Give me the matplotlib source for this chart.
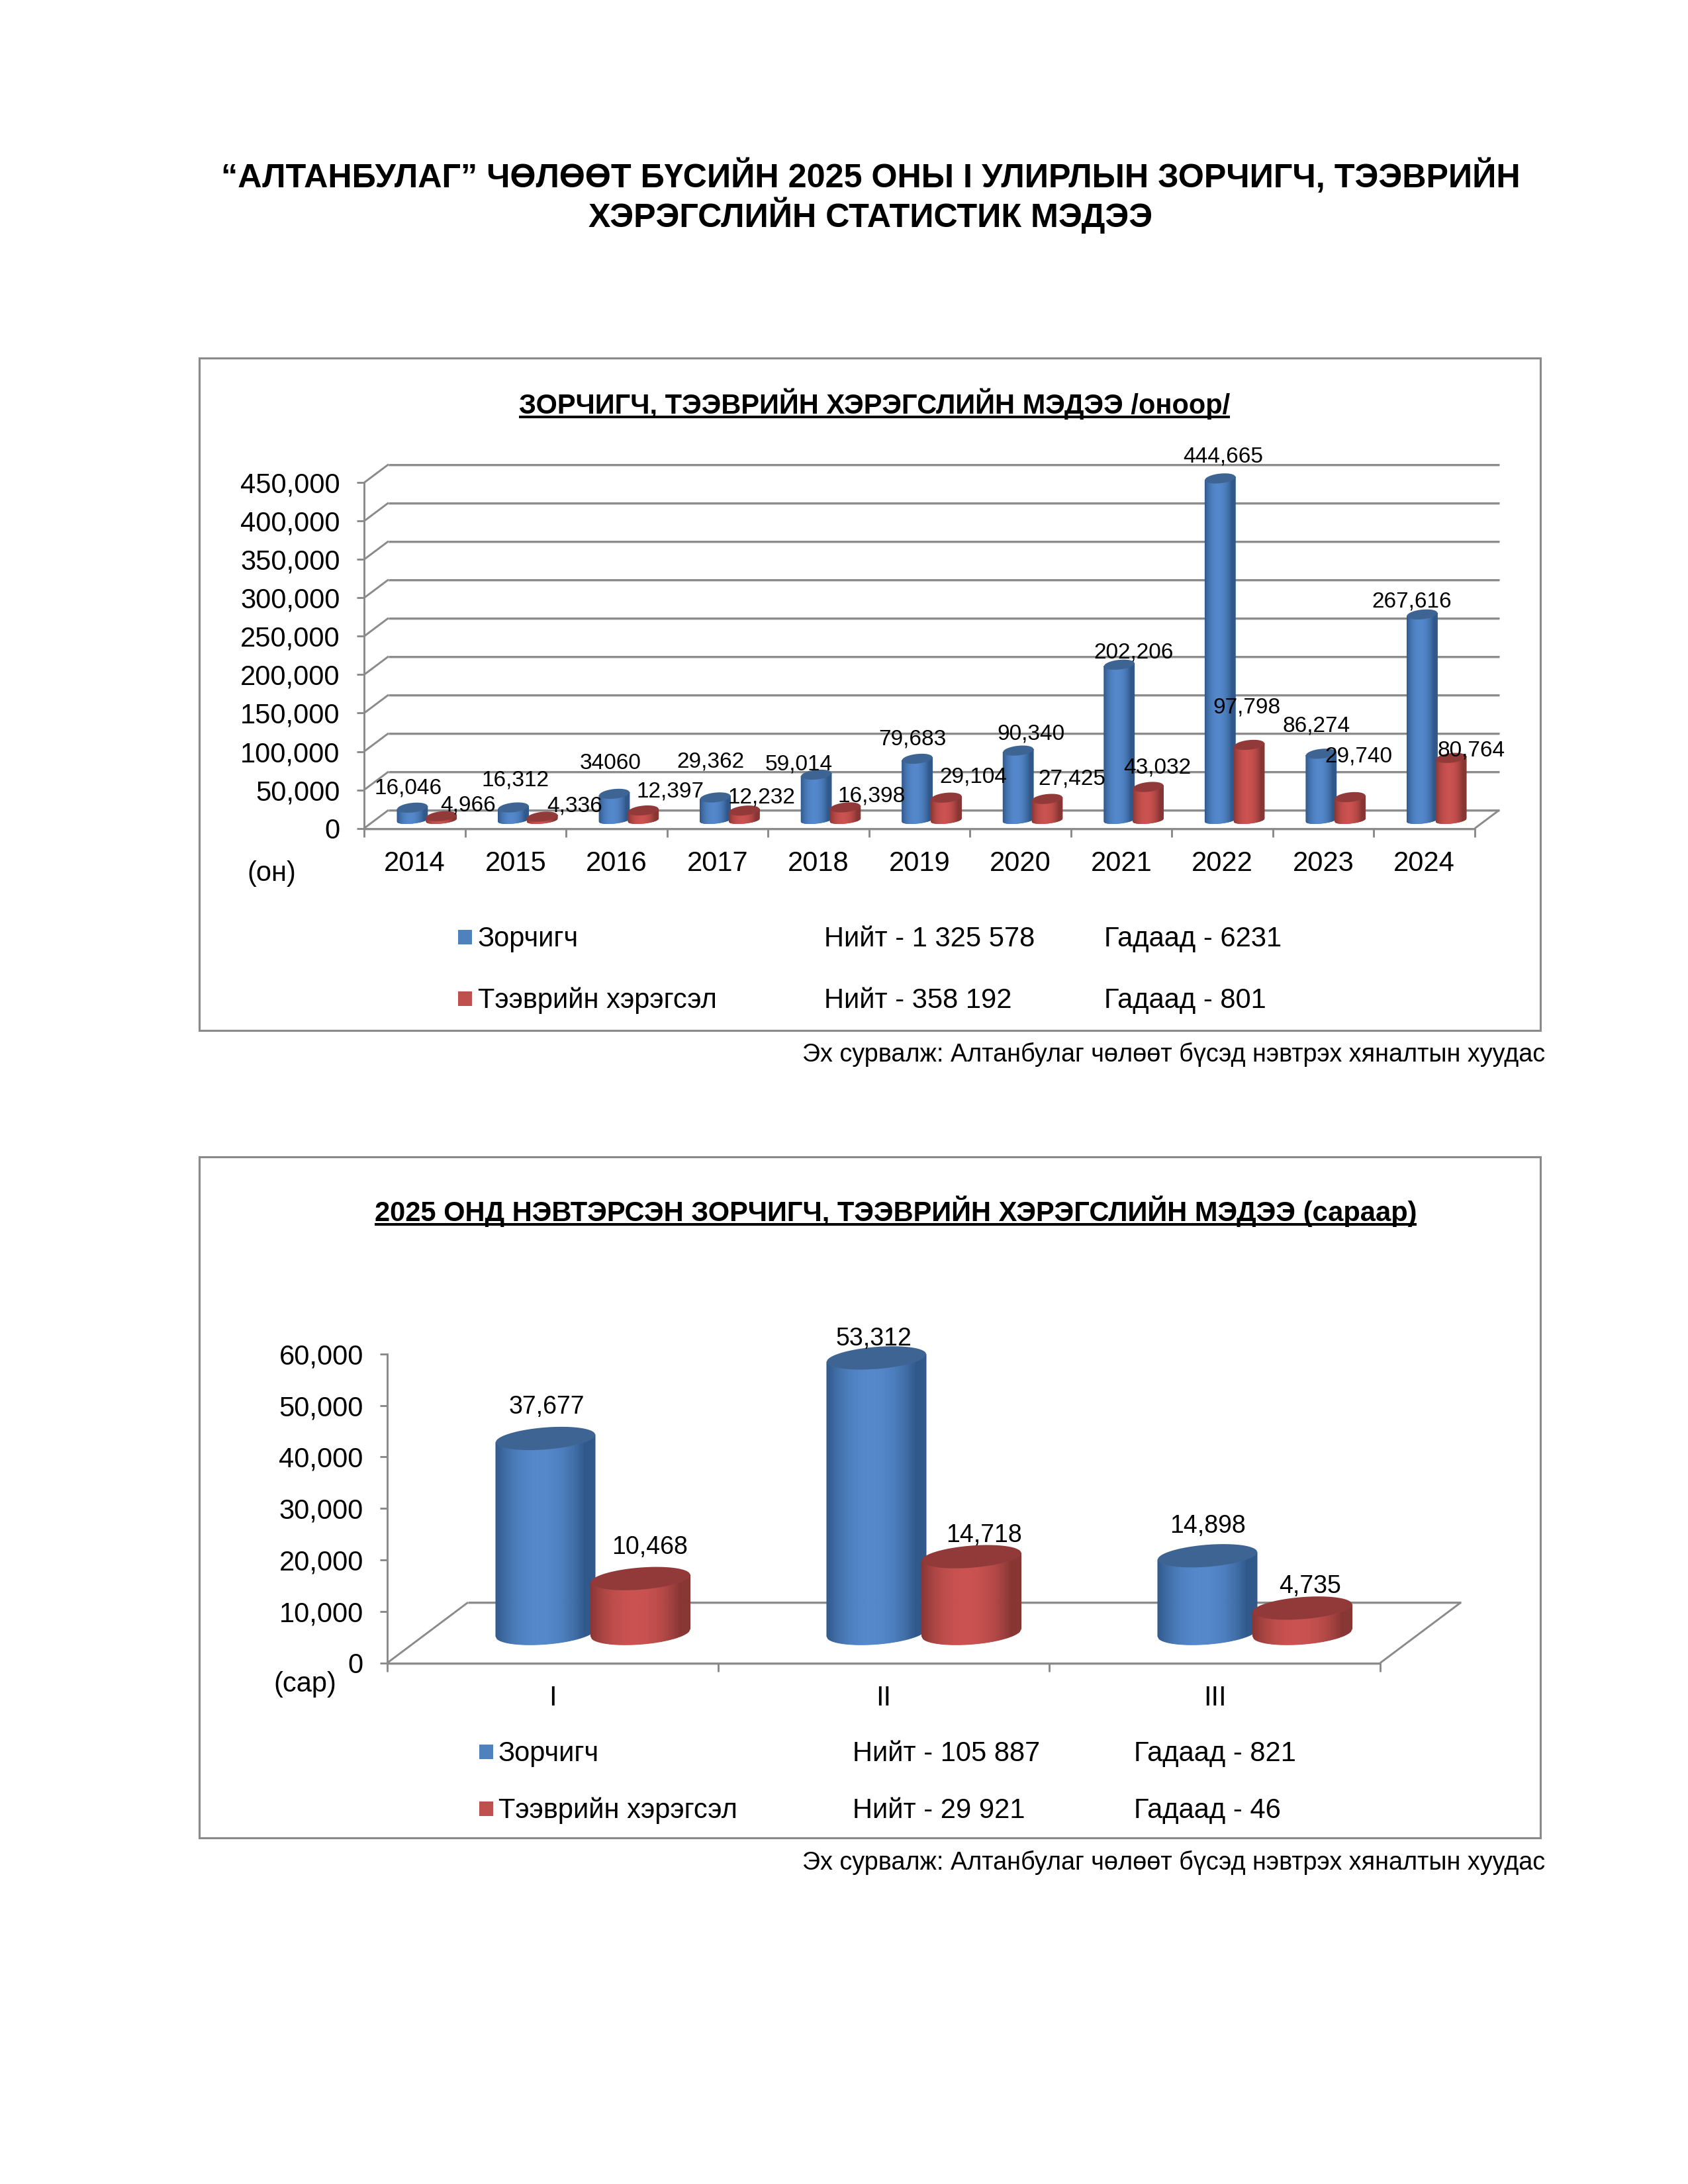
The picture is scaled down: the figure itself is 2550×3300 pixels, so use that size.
import numpy as np
import matplotlib
matplotlib.use('Agg')
import matplotlib.pyplot as plt
from matplotlib.collections import PolyCollection
from matplotlib.patches import Rectangle, Polygon
from matplotlib.ticker import FuncFormatter

plt.rcParams['font.family'] = ['Liberation Sans', 'DejaVu Sans']

# ---------- data ----------
years = ['2014', '2015', '2016', '2017', '2018', '2019', '2020', '2021', '2022', '2023', '2024']
passengers_year = [16046, 16312, 34060, 29362, 59014, 79683, 90340, 202206, 444665, 86274, 267616]
vehicles_year = [4966, 4336, 12397, 12232, 16398, 29104, 27425, 43032, 97798, 29740, 80764]
passengers_year_labels = ['16,046', '16,312', '34060', '29,362', '59,014', '79,683', '90,340',
                          '202,206', '444,665', '86,274', '267,616']
vehicles_year_labels = ['4,966', '4,336', '12,397', '12,232', '16,398', '29,104', '27,425',
                        '43,032', '97,798', '29,740', '80,764']
months = ['I', 'II', 'III']
passengers_month = [37677, 53312, 14898]
vehicles_month = [10468, 14718, 4735]
ticks_year = [0, 50000, 100000, 150000, 200000, 250000, 300000, 350000, 400000, 450000]
ticks_month = [0, 10000, 20000, 30000, 40000, 50000, 60000]

# label centres on the page (pixels)
pos_pass_year = [(617, 1188), (778, 1176), (922, 1151), (1073, 1148), (1207, 1152), (1378, 1114),
                 (1557, 1106), (1713, 983), (1848, 687), (1989, 1094), (2133, 906)]
pos_veh_year = [(707, 1214), (868, 1215), (1012, 1193), (1150, 1202), (1317, 1200), (1470, 1171),
                (1619, 1174), (1748, 1157), (1883, 1066), (2052, 1140), (2223, 1131)]
pos_pass_month = [(826, 2123), (1320, 2020), (1824, 2303)]
pos_veh_month = [(982, 2335), (1486, 2317), (1979, 2394)]

W, H = 2550, 3300
DPI = 300
GRAY = '#8a8a8a'
SHADOW = '#d4d4d4'
BLUE = dict(mid=(84, 136, 203), edge=(48, 88, 138), top=(61, 100, 146))
RED = dict(mid=(202, 82, 80), edge=(136, 54, 52), top=(146, 58, 57))

fig = plt.figure(figsize=(W / DPI, H / DPI), dpi=DPI, facecolor='white')
page = fig.add_axes([0, 0, 1, 1], zorder=5)
page.set_xlim(0, W)
page.set_ylim(H, 0)
page.axis('off')
page.patch.set_alpha(0)


def ptext(x, y, s, size, ha='left', va='center', **kw):
    return page.text(x, y + 3, s, fontsize=size, ha=ha, va=va, color='black', **kw)


def make_axes(x0, x1, y_top, y_zero, ncat, ymax, yticks, cats, dx_px, dy_px, gridded):
    ax = fig.add_axes([x0 / W, 1 - y_zero / H, (x1 - x0) / W, (y_zero - y_top) / H], zorder=2)
    ax.patch.set_alpha(0)
    ax.set_xlim(0, ncat)
    ax.set_ylim(0, ymax)
    ux = ncat / (x1 - x0)
    uy = ymax / (y_zero - y_top)
    dx, dy = dx_px * ux, dy_px * uy
    for s in ('top', 'right'):
        ax.spines[s].set_visible(False)
    for s in ('left', 'bottom'):
        ax.spines[s].set_color(GRAY)
        ax.spines[s].set_linewidth(0.7)
    ax.set_yticks(yticks)
    ax.yaxis.set_major_formatter(FuncFormatter(lambda v, _: f'{int(v):,}'))
    ax.tick_params(axis='y', length=2.7, width=0.7, color=GRAY, labelsize=10, pad=6)
    ax.set_xticks(np.arange(ncat + 1))
    ax.set_xticklabels([])
    ax.set_xticks(np.arange(ncat) + 0.5, minor=True)
    ax.set_xticklabels(cats, minor=True, fontsize=10)
    ax.tick_params(axis='x', which='major', length=3, width=0.7, color=GRAY)
    ax.tick_params(axis='x', which='minor', length=0, pad=8)
    lkw = dict(color=GRAY, lw=0.7, clip_on=False, solid_capstyle='butt', zorder=1)
    skw = dict(color=SHADOW, lw=0.5, clip_on=False, solid_capstyle='butt', zorder=0.9)
    levels = yticks if gridded else [0]
    shadow = 2.2 * uy
    for v in levels:
        ax.plot([dx, ncat + dx], [v + dy - shadow] * 2, **skw)
        ax.plot([dx, ncat + dx], [v + dy] * 2, **lkw)
        if gridded:
            ax.plot([0, dx], [v, v + dy], **lkw)
    if not gridded:
        ax.plot([0, dx], [0, dy], **lkw)
    ax.plot([ncat, ncat + dx], [0, dy], **lkw)
    ax.plot([0, ncat], [-shadow] * 2, **skw)
    return ax, ux, uy


def cylinder(ax, xc, value, style, a, base, b, k, b_bot, z):
    """Sheared cylinder; all sizes in data units of the axes."""
    n = 70
    xs = np.linspace(xc - a, xc + a, n + 1)
    u = (xs - xc) / a
    top = value + base
    semi = np.sqrt(np.clip(1 - u ** 2, 0, 1))
    y_up = top + k * u - b * semi
    y_lo = base + k * u - b_bot * semi
    verts, cols = [], []
    mid = np.array(style['mid']) / 255
    edge = np.array(style['edge']) / 255
    for i in range(n):
        verts.append([(xs[i], y_lo[i]), (xs[i + 1], y_lo[i + 1]), (xs[i + 1], y_up[i + 1]), (xs[i], y_up[i])])
        um = (u[i] + u[i + 1]) / 2
        f = min(1, abs(um + 0.1) / 0.9) ** 2.2
        cols.append(mid * (1 - f) + edge * f)
    ax.add_collection(PolyCollection(verts, facecolors=cols, edgecolors=cols, linewidths=0.25,
                                     zorder=z, clip_on=False))
    t = np.linspace(0, 2 * np.pi, 120)
    ring = np.column_stack([xc + a * np.cos(t), top + k * np.cos(t) + b * np.sin(t)])
    ax.add_patch(Polygon(ring, closed=True, facecolor=np.array(style['top']) / 255,
                         edgecolor='none', zorder=z + 0.5, clip_on=False))


def series(ax, ux, uy, pass_vals, veh_vals, a_cat, base_px, b_px, k_px, b_bot_px):
    for i, (p, v) in enumerate(zip(pass_vals, veh_vals)):
        cylinder(ax, i + 0.478, p, BLUE, a_cat, base_px * uy, b_px * uy, k_px * uy, b_bot_px * uy, 3 + i)
        cylinder(ax, i + 0.765, v, RED, a_cat, base_px * uy, b_px * uy, k_px * uy, b_bot_px * uy, 3.7 + i)


def frame(y0, y1):
    page.add_patch(Rectangle((301, y0), 2327 - 301, y1 - y0, fill=False, edgecolor=GRAY, lw=0.75, zorder=0))


def underlined_title(x, y, s, size):
    t = ptext(x, y - 3, s, size, ha='center', fontweight='bold')
    fig.canvas.draw()
    bb = t.get_window_extent(fig.canvas.get_renderer())
    page.plot([bb.x0, bb.x1], [y + 20, y + 20], color='black', lw=0.95, solid_capstyle='butt')


def legend_row(xs, xt, xn, xg, y, color, name, total, foreign):
    page.add_patch(Rectangle((xs, y - 11), 21, 22, facecolor=color, edgecolor='none'))
    ptext(xt, y, name, 10)
    ptext(xn, y, total, 10)
    ptext(xg, y, foreign, 10)


# ---------- page titles ----------
ptext(1315, 263, '“АЛТАНБУЛАГ” ЧӨЛӨӨТ БҮСИЙН 2025 ОНЫ I УЛИРЛЫН ЗОРЧИГЧ, ТЭЭВРИЙН', 12.05,
      ha='center', fontweight='bold')
ptext(1315, 322, 'ХЭРЭГСЛИЙН СТАТИСТИК МЭДЭЭ', 12.05, ha='center', fontweight='bold')

# ---------- chart 1 ----------
frame(541, 1557)
underlined_title(1321, 610, 'ЗОРЧИГЧ, ТЭЭВРИЙН ХЭРЭГСЛИЙН МЭДЭЭ /оноор/', 10)
ax1, ux1, uy1 = make_axes(550, 2228, 729.3, 1251.6, len(years), 450000, ticks_year, years, 37, 27.7, True)
series(ax1, ux1, uy1, passengers_year, vehicles_year, 0.15, 12.6, 7.3, 2.3, 5)
for (x, y), s in zip(pos_pass_year + pos_veh_year, passengers_year_labels + vehicles_year_labels):
    ptext(x, y, s, 8, ha='center')
ptext(410, 1317, '(он)', 10, ha='center')
legend_row(692, 722, 1245, 1668, 1416, '#4f81bd', 'Зорчигч', 'Нийт - 1 325 578', 'Гадаад - 6231')
legend_row(692, 722, 1245, 1668, 1509, '#c0504d', 'Тээврийн хэрэгсэл', 'Нийт - 358 192', 'Гадаад - 801')
ptext(2334, 1590, 'Эх сурвалж: Алтанбулаг чөлөөт бүсэд нэвтрэх хяналтын хуудас', 9.05, ha='right')

# ---------- chart 2 ----------
frame(1748, 2777)
underlined_title(1353, 1830, '2025 ОНД НЭВТЭРСЭН ЗОРЧИГЧ, ТЭЭВРИЙН ХЭРЭГСЛИЙН МЭДЭЭ (сараар)', 10)
ax2, ux2, uy2 = make_axes(585, 2085, 2045.8, 2512.7, len(months), 60000, ticks_month, months, 122, 91.5, False)
series(ax2, ux2, uy2, passengers_month, vehicles_month, 0.15, 46, 16.7, 5.7, 17.6)
for (x, y), s in zip(pos_pass_month + pos_veh_month,
                     [f'{v:,}' for v in passengers_month + vehicles_month]):
    ptext(x, y, s, 9, ha='center')
ptext(461, 2542, '(сар)', 10, ha='center')
legend_row(724, 753, 1288, 1713, 2647, '#4f81bd', 'Зорчигч', 'Нийт - 105 887', 'Гадаад - 821')
legend_row(724, 753, 1288, 1713, 2733, '#c0504d', 'Тээврийн хэрэгсэл', 'Нийт - 29 921', 'Гадаад - 46')
ptext(2334, 2811, 'Эх сурвалж: Алтанбулаг чөлөөт бүсэд нэвтрэх хяналтын хуудас', 9.05, ha='right')

fig.savefig('out.png', dpi=DPI, facecolor='white')
